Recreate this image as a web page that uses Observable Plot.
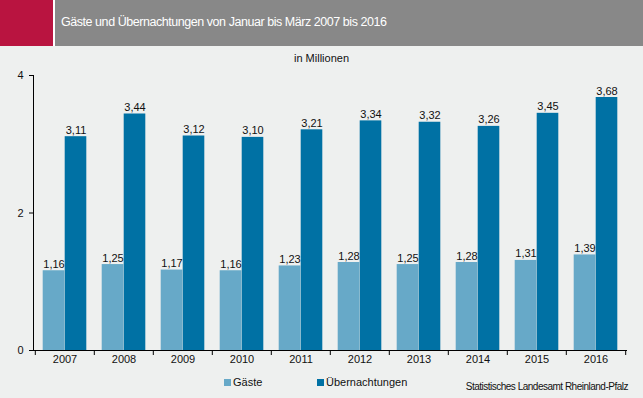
<!DOCTYPE html>
<html>
<head>
<meta charset="utf-8">
<script src="https://cdn.jsdelivr.net/npm/d3@7"></script>
<script src="https://cdn.jsdelivr.net/npm/@observablehq/plot@0.6"></script>
<style>
  html, body { margin: 0; padding: 0; background: #eef0ef; }
  body { width: 643px; height: 398px; overflow: hidden; position: relative; font-family: "Liberation Sans", Arial, sans-serif; }
  #red { position: absolute; left: 0; top: 0; width: 53px; height: 46px; background: #b91440; }
  #gap { position: absolute; left: 53px; top: 0; width: 2px; height: 46px; background: #ffffff; }
  #grey { position: absolute; left: 55px; top: 0; width: 588px; height: 46px; background: #888888; }
  #title { position: absolute; left: 61px; top: 15px; color: #fff; font-size: 12.5px; letter-spacing: -0.45px; white-space: nowrap; }
  #sub { position: absolute; left: 294px; top: 52px; font-size: 11px; color: #111; white-space: nowrap; }
  #chart { position: absolute; left: 0; top: 0; }
  .leg { position: absolute; top: 376px; font-size: 11px; color: #111; white-space: nowrap; }
  .sw { display: inline-block; width: 7px; height: 7px; margin-right: 2px; vertical-align: 0px; }
  #src { position: absolute; right: 15px; top: 381px; font-size: 10px; letter-spacing: -0.5px; color: #111; }
</style>
</head>
<body>
<div id="chart"></div>
<div id="red"></div><div id="gap"></div><div id="grey"></div>
<div id="title">Gäste und Übernachtungen von Januar bis März 2007 bis 2016</div>
<div id="sub">in Millionen</div>
<div class="leg" style="left:224px"><span class="sw" style="background:#67a9c8"></span>Gäste</div>
<div class="leg" style="left:317px"><span class="sw" style="background:#0071a4"></span>Übernachtungen</div>
<div id="src">Statistisches Landesamt Rheinland-Pfalz</div>
<script>
const years = ["2007","2008","2009","2010","2011","2012","2013","2014","2015","2016"];
const gaeste = [1.16,1.25,1.17,1.16,1.23,1.28,1.25,1.28,1.31,1.39];
const uebernachtungen = [3.11,3.44,3.12,3.10,3.21,3.34,3.32,3.26,3.45,3.68];
const yTicks = [0,2,4];

const colLight = "#67a9c8", colDark = "#0071a4";
const fmt = v => v.toFixed(2).replace(".", ",");
const dG = years.map((y,i) => ({year: y, value: gaeste[i]}));
const dU = years.map((y,i) => ({year: y, value: uebernachtungen[i]}));

const W = 643, H = 398, mL = 33, mR = 16, mT = 75, mB = 48;
const bw = (W - mL - mR) / years.length;
const half = bw / 2;
const barW = 22;
const side = half - barW;

const chart = Plot.plot({
  width: W, height: H,
  marginLeft: mL, marginRight: mR, marginTop: mT, marginBottom: mB,
  style: {background: "transparent", fontFamily: "Liberation Sans, Arial, sans-serif", fontSize: "11px", color: "#111"},
  x: {domain: years, padding: 0, axis: null, label: null},
  y: {domain: [0,4], axis: null, label: null},
  marks: [
    Plot.barY(dG, {x: "year", y: "value", fill: colLight, insetLeft: side, insetRight: half}),
    Plot.barY(dU, {x: "year", y: "value", fill: colDark, insetLeft: half, insetRight: side}),
    Plot.text(dG, {x: "year", y: "value", text: d => fmt(d.value), dx: -barW/2, dy: -3, lineAnchor: "bottom", fill: "#111", fontSize: 11}),
    Plot.text(dU, {x: "year", y: "value", text: d => fmt(d.value), dx: barW/2, dy: -3, lineAnchor: "bottom", fill: "#111", fontSize: 11}),
    Plot.axisY({ticks: yTicks, tickSize: 4, tickPadding: 6, tickFormat: d => String(d), fontSize: 11, stroke: "#000", color: "#111", label: null}),
    Plot.axisX({tickSize: 0, tickPadding: 5, fontSize: 11, color: "#111", label: null}),
    Plot.ruleX(years, {x: d => d, dx: -half, insetTop: H - mT - mB, insetBottom: -5, stroke: "#000"}),
    Plot.ruleX([years[years.length-1]], {x: d => d, dx: half, insetTop: H - mT - mB, insetBottom: -5, stroke: "#000"}),
    Plot.ruleY([0], {stroke: "#000"}),
    Plot.frame({anchor: "left", stroke: "#000"})
  ]
});
document.getElementById("chart").appendChild(chart);
</script>
</body>
</html>
